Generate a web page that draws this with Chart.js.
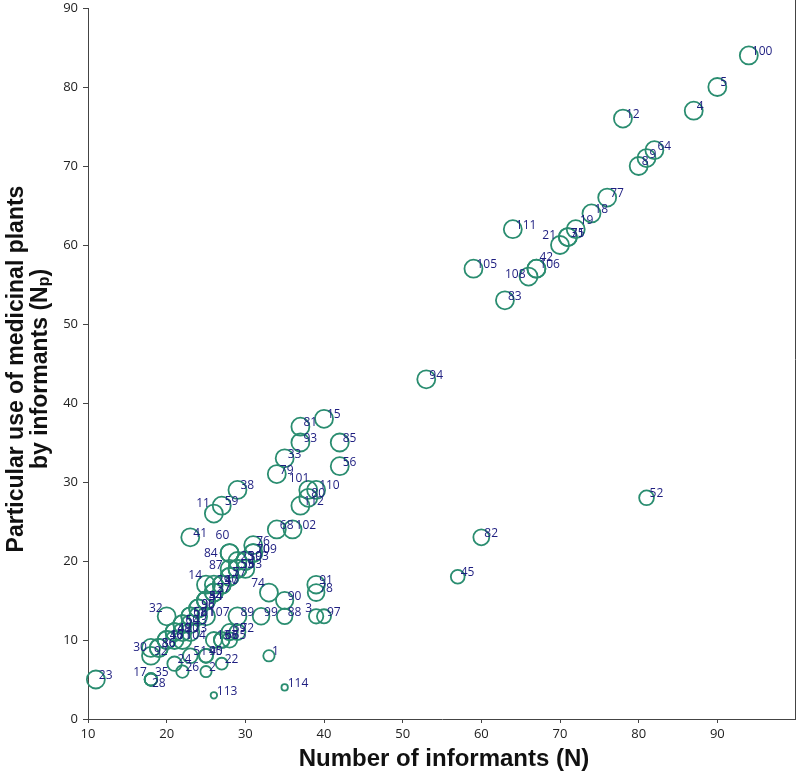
<!DOCTYPE html>
<html lang="en">
<head>
  <meta charset="UTF-8">
  <title>Informants vs particular use</title>
  <script src="https://cdn.jsdelivr.net/npm/chart.js"></script>
  <style>
    body { margin: 0; background: #fff; }
    #wrap { width: 796px; height: 773px; position: relative; }
  </style>
</head>
<body>
  <div id="wrap"><canvas id="myChart"></canvas></div>

  <script>
    // point ids (plant numbers)
    const ids = [
      1, 2, 3, 4, 5, 6, 7, 8, 9, 10, 11, 12, 13, 14, 15, 16, 17, 18, 19, 20,
      21, 22, 23, 24, 25, 26, 27, 28, 29, 30, 31, 32, 33, 34, 35, 36, 37, 38, 39, 40,
      41, 42, 43, 44, 45, 46, 47, 48, 49, 50, 51, 52, 53, 54, 55, 56, 57, 58, 59, 60,
      61, 62, 63, 64, 65, 66, 67, 68, 69, 70, 71, 72, 73, 74, 75, 76, 77, 78, 79, 80,
      81, 82, 83, 84, 85, 86, 87, 88, 89, 90, 91, 92, 93, 94, 95, 96, 97, 98, 99, 100,
      101, 102, 103, 104, 105, 106, 107, 108, 109, 110, 111, 112, 113, 114
    ];
    // number of informants (N)
    const informants = [
      33, 25, 39, 87, 90, 22, 28, 80, 81, 27, 26, 78, 26, 25, 40, 20, 18, 74, 72, 22,
      70, 27, 11, 21, 29, 22, 26, 18, 26, 18, 71, 20, 35, 25, 18, 19, 26, 29, 30, 25,
      23, 67, 23, 25, 57, 20, 27, 21, 21, 22, 23, 81, 29, 25, 29, 42, 28, 23, 27, 28,
      24, 23, 30, 82, 28, 27, 27, 34, 28, 31, 21, 29, 23, 33, 71, 31, 76, 39, 34, 38,
      37, 60, 63, 28, 42, 19, 28, 35, 29, 35, 39, 18, 37, 53, 25, 24, 40, 24, 32, 94,
      38, 36, 30, 22, 59, 67, 25, 66, 31, 39, 64, 37, 26, 35
    ];
    // informants citing a particular use (Np)
    const particularUse = [
      8, 6, 13, 77, 80, 12, 18, 70, 71, 17, 26, 76, 10, 17, 38, 10, 5, 64, 62, 11,
      60, 7, 5, 7, 20, 6, 16, 5, 17, 9, 61, 13, 33, 15, 5, 9, 16, 29, 20, 8,
      23, 57, 12, 15, 18, 10, 17, 11, 11, 12, 8, 28, 19, 15, 19, 32, 18, 13, 27, 21,
      13, 13, 19, 72, 10, 10, 10, 24, 11, 21, 10, 11, 11, 16, 61, 22, 66, 16, 31, 28,
      37, 23, 53, 21, 35, 9, 19, 13, 13, 15, 17, 8, 35, 43, 8, 14, 13, 14, 13, 84,
      29, 24, 20, 10, 57, 57, 13, 56, 21, 29, 62, 27, 3, 4
    ];

    const xTicks = [10, 20, 30, 40, 50, 60, 70, 80, 90, 100];
    const yTicks = [0, 10, 20, 30, 40, 50, 60, 70, 80, 90];

    // label placement tweaks (dx, dy, align)
    const labelPlace = {
      3: { dx: -4, dy: -8, align: 'right' },
      11: { dx: -4, dy: -10, align: 'right' },
      14: { dx: -4, dy: -9, align: 'right' },
      17: { dx: -4, dy: -7, align: 'right' },
      21: { dx: -4, dy: -9, align: 'right' },
      30: { dx: -4, dy: 0, align: 'right' },
      32: { dx: -4, dy: -8, align: 'right' },
      74: { dx: -4, dy: -9, align: 'right' },
      84: { dx: -12, dy: 0, align: 'right' },
      87: { dx: -7, dy: -3, align: 'right' },
      101: { dx: 1, dy: -11, align: 'right' },
      108: { dx: -3, dy: -2, align: 'right' },
      42: { dx: 3, dy: -11, align: 'left' },
      60: { dx: -14, dy: -18, align: 'left' },
      19: { dx: 4, dy: -9, align: 'left' },
      28: { dx: 1, dy: 4, align: 'left' },
      35: { dx: 4, dy: -7, align: 'left' }
    };
    const defaultPlace = { dx: 3, dy: -4, align: 'left' };

    const points = ids.map(function (id, i) {
      return { x: informants[i], y: particularUse[i], id: id };
    });

    const ringColor = '#2a8d70';
    const labelColor = 'rgb(30, 30, 128)';
    const tickFont = { family: 'Open Sans', size: 13 };

    // ring size grows with Np/N and levels off
    function ringRadius(p) {
      const ratio = Math.min(1, (p.y / p.x) / 0.45);
      return 9 * Math.pow(ratio, 0.75);
    }
    function radiusOf(c) {
      return c.raw ? ringRadius(c.raw) : 9;
    }

    const ctx = document.getElementById('myChart').getContext('2d');
    const myChart = new Chart(ctx, {
      type: 'scatter',
      data: {
        datasets: [{
          data: points,
          backgroundColor: 'rgba(0,0,0,0)',
          borderColor: ringColor,
          borderWidth: 1.8,
          pointRadius: radiusOf,
          pointHoverRadius: radiusOf,
          clip: false
        }]
      },
      options: {
        responsive: true,
        maintainAspectRatio: false,
        animation: false,
        layout: { autoPadding: false, padding: { top: 8, right: 0, bottom: 0, left: 0 } },
        plugins: {
          legend: { display: false },
          tooltip: { enabled: false }
        },
        scales: {
          x: {
            type: 'linear',
            min: 10,
            max: 100,
            afterFit: function (scale) {
              scale.height = 54;
              scale.paddingRight = 0;
              scale.paddingLeft = 0;
            },
            afterBuildTicks: function (scale) {
              scale.ticks = xTicks.map(function (v) { return { value: v }; });
            },
            ticks: {
              color: '#222',
              font: tickFont,
              padding: 3,
              maxRotation: 0,
              callback: function (v) { return v === 100 ? '' : String(v); }
            },
            grid: { drawOnChartArea: false, drawTicks: true, tickLength: 4, color: '#444' },
            border: { display: true, color: '#444', width: 1 }
          },
          y: {
            type: 'linear',
            min: 0,
            max: 90,
            afterFit: function (scale) {
              scale.width = 88;
              scale.paddingTop = 0;
              scale.paddingBottom = 0;
            },
            afterBuildTicks: function (scale) {
              scale.ticks = yTicks.map(function (v) { return { value: v }; });
            },
            ticks: { color: '#222', font: tickFont, padding: 5 },
            grid: { drawOnChartArea: false, drawTicks: true, tickLength: 5, color: '#444' },
            border: { display: true, color: '#444', width: 1 }
          }
        }
      },
      plugins: [{
        id: 'pointLabels',
        afterDatasetsDraw: function (chart) {
          const c = chart.ctx;
          const meta = chart.getDatasetMeta(0);
          c.save();
          c.font = '12px "Open Sans"';
          c.fillStyle = labelColor;
          c.textBaseline = 'middle';
          meta.data.forEach(function (el, i) {
            const id = ids[i];
            const place = labelPlace[id] || defaultPlace;
            c.textAlign = place.align;
            c.fillText(String(id), el.x + place.dx, el.y + place.dy);
          });
          c.restore();
        }
      }, {
        id: 'frameAndTitles',
        afterDraw: function (chart) {
          const c = chart.ctx;
          const area = chart.chartArea;
          c.save();
          // right frame line
          c.strokeStyle = '#444';
          c.lineWidth = 1;
          c.beginPath();
          c.moveTo(area.right - 0.5, 0);
          c.lineTo(area.right - 0.5, area.bottom);
          c.stroke();

          const big = 'bold 23px "Liberation Sans"';
          const small = 'bold 16px "Liberation Sans"';
          c.fillStyle = '#111';
          c.textBaseline = 'middle';
          c.textAlign = 'center';
          c.font = 'bold 24px "Liberation Sans"';
          c.fillText('Number of informants (N)', 444, 759);

          // y title line 1
          c.font = big;
          c.save();
          c.translate(17, 369);
          c.rotate(-Math.PI / 2);
          c.fillText('Particular use of medicinal plants', 0, 0);
          c.restore();

          // y title line 2 with subscript p
          c.save();
          c.translate(41, 369);
          c.rotate(-Math.PI / 2);
          const partA = 'by informants (N';
          const partB = 'p';
          const partC = ')';
          c.font = big;
          const wa = c.measureText(partA).width;
          const wc = c.measureText(partC).width;
          c.font = small;
          const wb = c.measureText(partB).width;
          const x0 = -(wa + wb + wc) / 2;
          c.textAlign = 'left';
          c.font = big;
          c.fillText(partA, x0, 0);
          c.font = small;
          c.fillText(partB, x0 + wa, 4);
          c.font = big;
          c.fillText(partC, x0 + wa + wb, 0);
          c.restore();
          c.restore();
        }
      }]
    });
  </script>
</body>
</html>
